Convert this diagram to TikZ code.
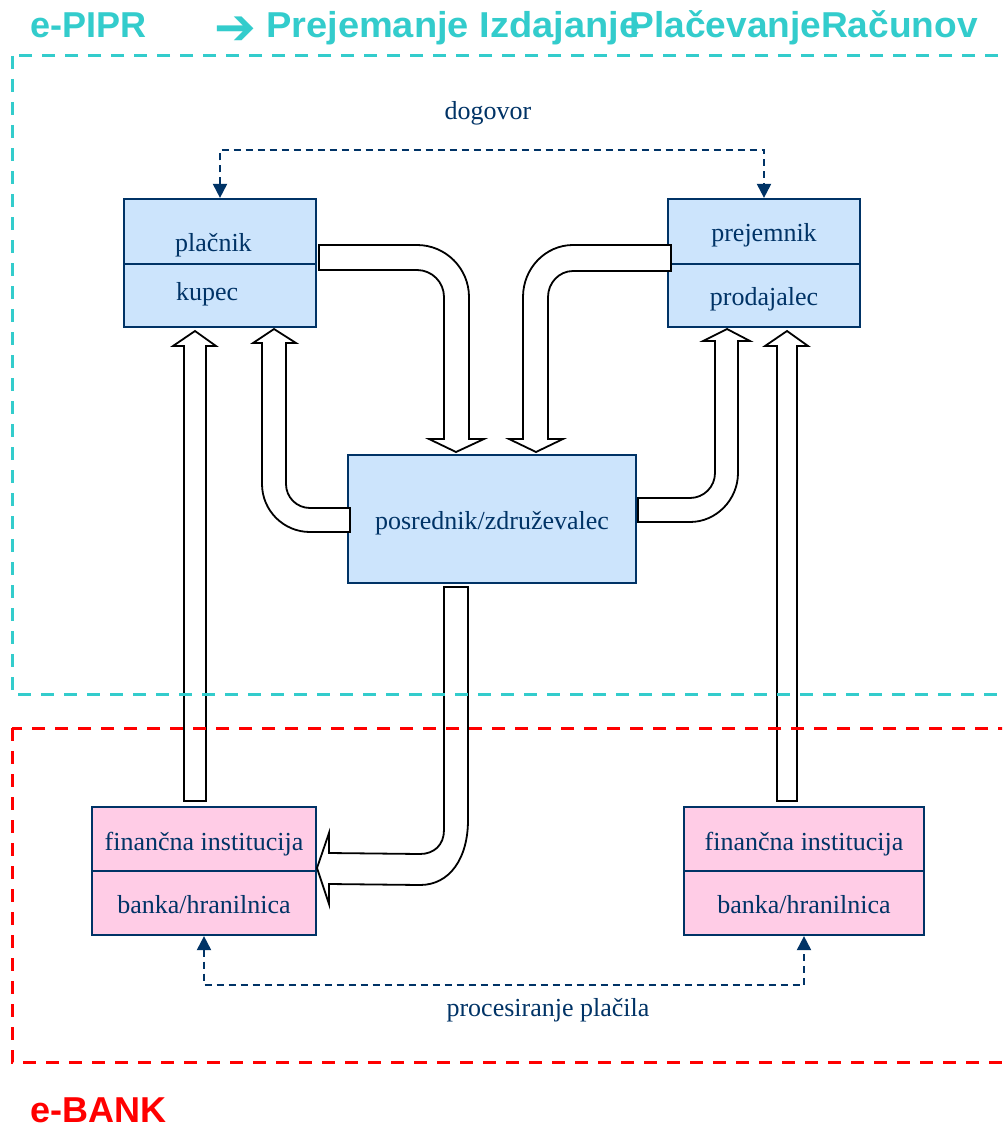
\documentclass[tikz,border=0pt]{standalone}
\usepackage{fontspec}
\setmainfont{Liberation Serif}
\newfontfamily\titlefont{Liberation Sans}
\newfontfamily\symfont{DejaVu Sans}
\usetikzlibrary{arrows.meta}
\definecolor{dblue}{RGB}{0,51,102}
\definecolor{lblue}{RGB}{204,228,252}
\definecolor{lpink}{RGB}{255,204,230}
\definecolor{tcyan}{RGB}{51,204,204}
\definecolor{tred}{RGB}{255,0,0}
\tikzset{
 boxbase/.style={draw=dblue,line width=2.2pt,inner sep=0pt,rectangle},
 bluebox/.style={boxbase,fill=lblue},
 pinkbox/.style={boxbase,fill=lpink},
 lbl/.style={text=dblue,font=\fontsize{26}{30}\selectfont,inner sep=0pt},
 blockarrow/.style={draw=black,fill=white,line width=1.8pt,line join=miter},
 link/.style={draw=dblue,line width=2pt,dash pattern=on 7pt off 5pt,{Triangle[width=14pt,length=14pt]}-{Triangle[width=14pt,length=14pt]}},
 zone/.style={line width=3pt,dash pattern=on 13pt off 10pt},
 titlef/.style={font=\titlefont\bfseries\fontsize{36}{40}\selectfont,inner sep=0pt},
 divider/.style={draw=dblue,line width=2pt}
}
\begin{document}
\begin{tikzpicture}[x=1pt,y=-1pt]
\useasboundingbox (0,0) rectangle (1002,1129);
\clip (0,0) rectangle (1002,1129);
\fill[white] (0,0) rectangle (1002,1129);

% boxes
\node[bluebox,minimum width=192pt,minimum height=128pt] (pl) at (220,263) {};
\draw[divider] (124,264) -- (316,264);
\node[bluebox,minimum width=192pt,minimum height=128pt] (pr) at (764,263) {};
\draw[divider] (668,264) -- (860,264);
\node[bluebox,minimum width=288pt,minimum height=128pt] (po) at (492,519) {};
\node[pinkbox,minimum width=224pt,minimum height=128pt] (fl) at (204,871) {};
\draw[divider] (92,871) -- (316,871);
\node[pinkbox,minimum width=240pt,minimum height=128pt] (fr) at (804,871) {};
\draw[divider] (684,871) -- (924,871);

% block arrows
\draw[blockarrow] (319,245) -- (417,245) .. controls (445.7,245) and (469,268.3) .. (469,297)
  -- (469,439) -- (484,439) -- (456,452) -- (429,439) -- (444,439) -- (444,297)
  .. controls (444,282.1) and (431.9,270) .. (417,270) -- (319,270) -- cycle;
\draw[blockarrow] (671,245) -- (573,245) .. controls (545.4,245) and (523,268.3) .. (523,297)
  -- (523,439) -- (509,439) -- (536,452) -- (563,439) -- (548,439) -- (548,297)
  .. controls (548,283) and (559,271) .. (573,271) -- (671,271) -- cycle;
\draw[blockarrow] (350,508) -- (310,508) .. controls (296.7,508) and (286,497.3) .. (286,484)
  -- (286,343) -- (296,343) -- (274,329) -- (253,343) -- (262,343) -- (262,484)
  .. controls (262,510.5) and (283.5,532) .. (310,532) -- (350,532) -- cycle;
\draw[blockarrow] (638,498) -- (690,498) .. controls (703.8,498) and (715,486.8) .. (715,473)
  -- (715,341) -- (703,341) -- (727,329) -- (750,341) -- (738,341) -- (738,473)
  .. controls (738,499.5) and (716.5,522) .. (690,522) -- (638,522) -- cycle;
\draw[blockarrow] (184,801) -- (184,346) -- (173,346) -- (195,331) -- (216,346) -- (206,346) -- (206,801) -- cycle;
\draw[blockarrow] (777,801) -- (777,346) -- (765,346) -- (787,331) -- (808,346) -- (797,346) -- (797,801) -- cycle;
\draw[blockarrow] (444,587) -- (468,587) -- (468,820) .. controls (468,858) and (450,885) .. (420,885)
  -- (329,884) -- (329,904) -- (317,868) -- (329,833) -- (329,853) -- (420,854)
  .. controls (434,854) and (444,845) .. (444,830) -- cycle;

% zones
\draw[zone,draw=tcyan] (12,56) rectangle (1040,694);
\draw[zone,draw=tred] (12,728) rectangle (1040,1062);

% dashed links
\draw[link] (pl.north) -- ++(0,-48) -| (pr.north);
\draw[link] (fl.south) -- ++(0,49) -| (fr.south);

% labels
\node[lbl,anchor=base west] (plA) at (175,251) {plačnik};
\node[lbl,anchor=base west] (plB) at (176,300) {kupec};
\node[lbl,anchor=base] (prA) at (764,241) {prejemnik};
\node[lbl,anchor=base] (prB) at (764,305) {prodajalec};
\node[lbl,anchor=base] (poA) at (492,529) {posrednik/združevalec};
\node[lbl,anchor=base] (flA) at (204,850) {finančna institucija};
\node[lbl,anchor=base] (flB) at (204,913) {banka/hranilnica};
\node[lbl,anchor=base] (frA) at (804,850) {finančna institucija};
\node[lbl,anchor=base] (frB) at (804,913) {banka/hranilnica};
\node[lbl,anchor=base] (dog) at (488,120) {dogovor};
\node[lbl,anchor=base] (proc) at (548,1016) {procesiranje plačila};

% titles
\node[titlef,text=tcyan,anchor=base west] (t1) at (30,38) {e-PIPR};
\node[font=\symfont\bfseries\fontsize{50}{50}\selectfont,text=tcyan,anchor=base west,inner sep=0pt] (t2) at (214,45) {➔};
\node[titlef,text=tcyan,anchor=base west] (t3) at (266,38) {\scalebox{1.056}[1]{Prejemanje Izdajanje}};
\node[titlef,text=tcyan,anchor=base east] (t4) at (978,38) {\scalebox{1.03}[1]{PlačevanjeRačunov}};
\node[titlef,text=tred,anchor=base west] (t5) at (30,1122) {e-BANK};
\end{tikzpicture}
\end{document}
